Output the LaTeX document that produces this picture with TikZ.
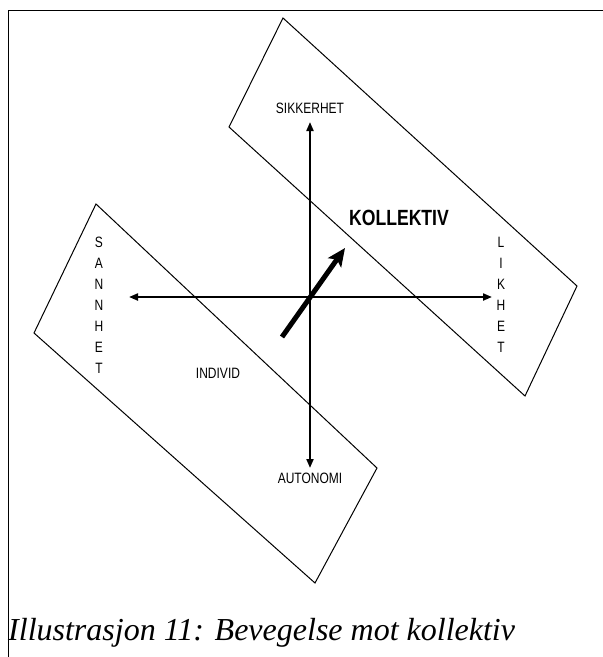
\documentclass[tikz,border=0pt]{standalone}
\usepackage{fontspec}
\setmainfont{Liberation Serif}
\setsansfont{Liberation Sans}
\newfontfamily\narrowsans[FakeStretch=0.8]{Liberation Sans}
\usetikzlibrary{arrows.meta}

\begin{document}
\begin{tikzpicture}[x=1pt, y=-1pt,
    lbl/.style={font=\narrowsans\fontsize{15}{21}\selectfont, inner sep=0pt, align=center},
    axis/.style={line width=2pt, {Triangle[length=9pt,width=7pt]}-{Triangle[length=9pt,width=7pt]}},
    band/.style={line width=1pt, line join=miter}]

    \useasboundingbox (0,0) rectangle (603,657);

    % Frame
    \draw[line width=1pt] (603,10) -- (8,10) -- (8,657);

    % Bands
    \draw[band] (283,18) -- (577,286) -- (525,396) -- (229,127) -- cycle;
    \draw[band] (96,204) -- (377,468) -- (315,583) -- (34,333) -- cycle;

    % Axis ends
    \coordinate (n) at (310,122);
    \coordinate (s) at (310,468);
    \coordinate (w) at (129,297);
    \coordinate (e) at (492,297);

    % Labels
    \node[lbl, anchor=south] (sikkerhet) at (310,114) {SIKKERHET};
    \node[lbl, anchor=north] (autonomi) at (310,473) {AUTONOMI};
    \node[lbl] (sannhet) at (99,305) {S\\A\\N\\N\\H\\E\\T};
    \node[lbl] (likhet) at (501,295) {L\\I\\K\\H\\E\\T};
    \node[lbl] (individ) at (218,373) {INDIVID};
    \node[lbl, font=\narrowsans\bfseries\fontsize{22}{24}\selectfont] (kollektiv) at (399,218) {KOLLEKTIV};

    % Axes
    \draw[axis] (n) -- (s);
    \draw[axis] (w) -- (e);

    % Movement
    \coordinate (start) at (282,337);
    \coordinate (goal) at (345,248);
    \draw[line width=5pt, -{Stealth[length=18pt,width=16pt,inset=4pt]}] (start) -- (goal);

    % Caption
    \node[anchor=west, inner sep=0pt, font=\itshape\fontsize{32}{34}\selectfont] (caption) at (8,633) {Illustrasjon 11: Bevegelse mot kollektiv};
\end{tikzpicture}
\end{document}
